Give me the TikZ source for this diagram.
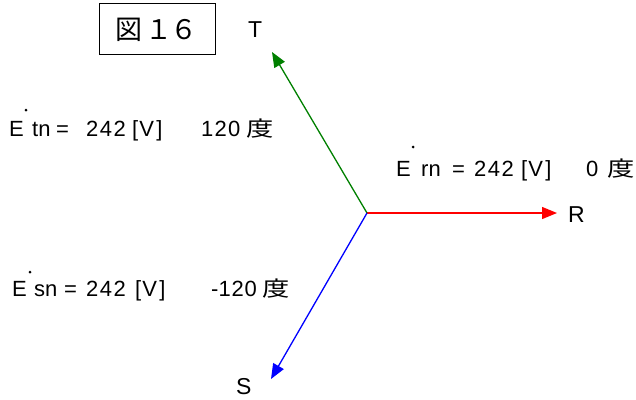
\documentclass[tikz,border=0pt]{standalone}
\usepackage{fontspec}
\setmainfont{Liberation Sans}
\newfontfamily\jpfont{Noto Sans CJK JP}
\usetikzlibrary{arrows.meta}
\definecolor{tgreen}{RGB}{0,128,0}
\newcommand{\dokanji}{\scalebox{1.3}[1]{\fontsize{21}{21}\selectfont\jpfont 度}}
\begin{document}
\begin{tikzpicture}[x=1pt,y=-1pt,
  lbl/.style={inner sep=0pt,anchor=base west,font=\fontsize{22}{22}\selectfont},
  pname/.style={inner sep=0pt,anchor=base west,font=\fontsize{23}{23}\selectfont},
  ttl/.style={inner sep=0pt,anchor=center,font=\fontsize{27}{27}\selectfont\jpfont},
  phasor/.style={line width=1.3pt,-{Triangle[length=15pt,width=12pt]}},
  dotmark/.style={fill=black,circle,inner sep=0pt,minimum size=3pt}]
\useasboundingbox (0,0) rectangle (636,399);
% title box
\draw[line width=0.9pt] (99,3) rectangle (215,54);
\node[ttl] (t1) at (128.5,30) {図};
\node[ttl] (t2) at (159,30) {１};
\node[ttl] (t3) at (184,30) {６};
% phasors
\coordinate (N) at (367,213);
\coordinate (Rt) at (557,213);
\coordinate (Tt) at (272,52);
\coordinate (St) at (271,379);
\draw[phasor,red] (N) -- (Rt);
\draw[phasor,tgreen] (N) -- (Tt);
\draw[phasor,blue] (N) -- (St);
\node[pname] (R) at (568,222) {R};
\node[pname] (T) at (248,37) {T};
\node[pname] (S) at (236,394) {S};
% Etn
\node[lbl] (e1) at (9,136.5) {E};
\node[dotmark] (d1) at (26,110) {};
\node[lbl] (n1) at (32,136.5) {tn};
\node[lbl] (q1) at (56,136.5) {=};
\node[lbl] (v1) at (86,136.5) {2\kern1.5pt 4\kern1.5pt 2};
\node[lbl] (u1) at (132,136.5) {[\kern1pt V\kern2.5pt]};
\node[lbl] (a1) at (201,136.5) {1\kern1.2pt 2\kern1.2pt 0};
\node[lbl] (k1) at (246,136.5) {\dokanji};
% Ern
\node[lbl] (e2) at (396,176) {E};
\node[dotmark] (d2) at (413,147) {};
\node[lbl] (n2) at (421,176) {rn};
\node[lbl] (q2) at (452,176) {=};
\node[lbl] (v2) at (474,176) {2\kern1.5pt 4\kern1.5pt 2};
\node[lbl] (u2) at (521,176) {[\kern1pt V\kern2.5pt]};
\node[lbl] (a2) at (586,176) {0};
\node[lbl] (k2) at (607,176) {\dokanji};
% Esn
\node[lbl] (e3) at (12,296) {E};
\node[dotmark] (d3) at (30,272) {};
\node[lbl] (n3) at (34,296) {sn};
\node[lbl] (q3) at (64,296) {=};
\node[lbl] (v3) at (86,296) {2\kern1.5pt 4\kern1.5pt 2};
\node[lbl] (u3) at (135,296) {[\kern1pt V\kern2.5pt]};
\node[lbl] (a3) at (211,296) {-1\kern0.8pt 2\kern0.8pt 0};
\node[lbl] (k3) at (262,296) {\dokanji};
\end{tikzpicture}
\end{document}
